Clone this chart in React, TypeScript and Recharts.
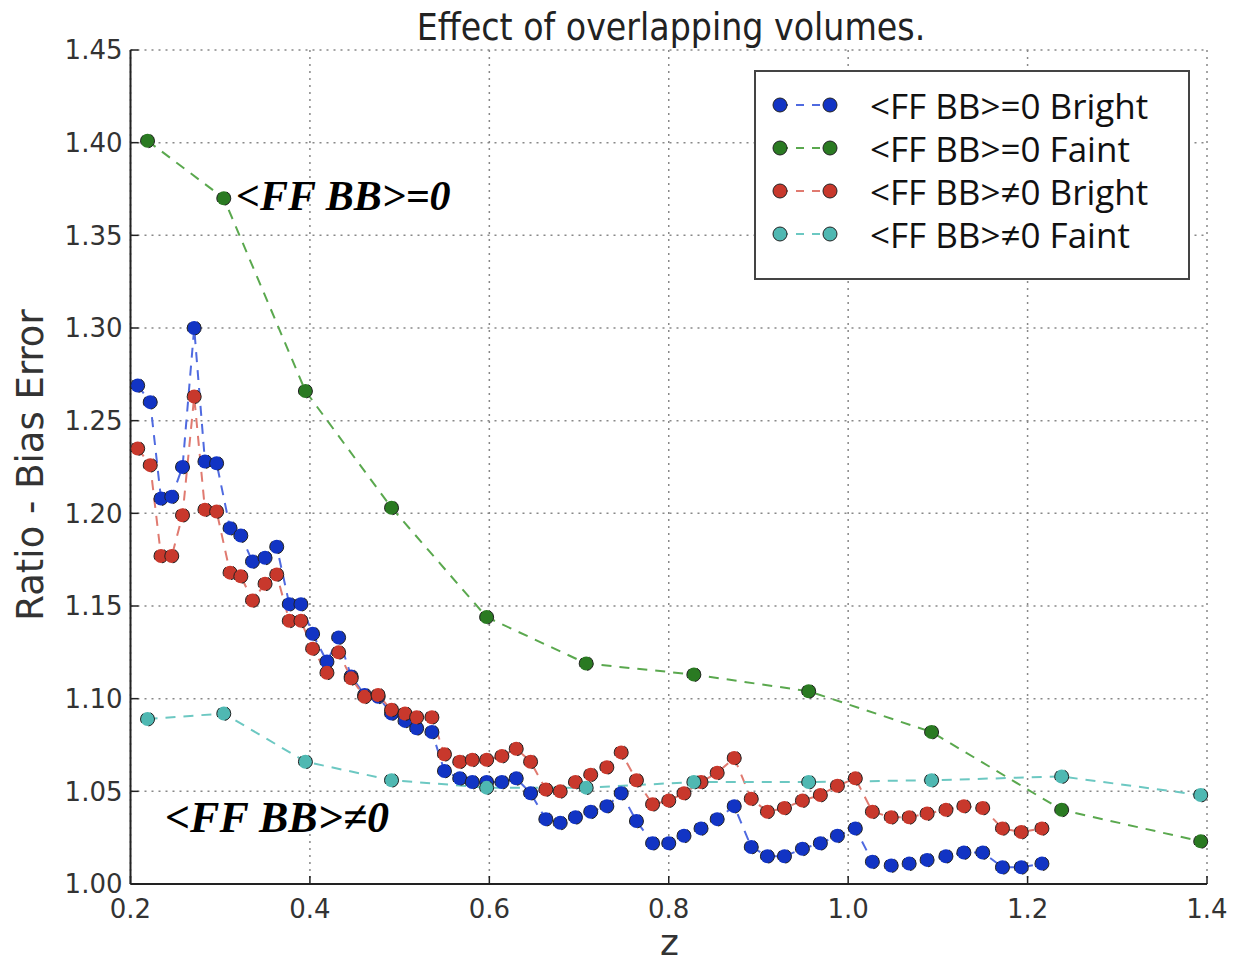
import React from "react";
import {
  LineChart,
  Line,
  XAxis,
  YAxis,
  CartesianGrid,
  Legend,
} from "recharts";

// redshift bins for the bright samples
const brightZ = [
  0.208, 0.222, 0.234, 0.246, 0.258, 0.271, 0.283, 0.296, 0.311, 0.323,
  0.336, 0.35, 0.363, 0.377, 0.39, 0.403, 0.419, 0.432, 0.446, 0.461,
  0.476, 0.491, 0.506, 0.519, 0.536, 0.55, 0.567, 0.581, 0.597, 0.614,
  0.63, 0.646, 0.663, 0.679, 0.696, 0.713, 0.731, 0.747, 0.764, 0.782,
  0.8, 0.817, 0.836, 0.854, 0.873, 0.892, 0.91, 0.929, 0.949, 0.969,
  0.988, 1.008, 1.027, 1.048, 1.068, 1.088, 1.109, 1.129, 1.15, 1.172,
  1.193, 1.216,
];

const brightEq = [
  1.269, 1.26, 1.208, 1.209, 1.225, 1.3, 1.228, 1.227, 1.192, 1.188,
  1.174, 1.176, 1.182, 1.151, 1.151, 1.135, 1.12, 1.133, 1.112, 1.102,
  1.101, 1.092, 1.088, 1.084, 1.082, 1.061, 1.057, 1.055, 1.055, 1.055,
  1.057, 1.049, 1.035, 1.033, 1.036, 1.039, 1.042, 1.049, 1.034, 1.022,
  1.022, 1.026, 1.03, 1.035, 1.042, 1.02, 1.015, 1.015, 1.019, 1.022,
  1.026, 1.03, 1.012, 1.01, 1.011, 1.013, 1.015, 1.017, 1.017, 1.009,
  1.009, 1.011,
];

const brightNe = [
  1.235, 1.226, 1.177, 1.177, 1.199, 1.263, 1.202, 1.201, 1.168, 1.166,
  1.153, 1.162, 1.167, 1.142, 1.142, 1.127, 1.114, 1.125, 1.111, 1.101,
  1.102, 1.094, 1.092, 1.09, 1.09, 1.07, 1.066, 1.067, 1.067, 1.069,
  1.073, 1.066, 1.051, 1.05, 1.055, 1.059, 1.063, 1.071, 1.056, 1.043,
  1.045, 1.049, 1.055, 1.06, 1.068, 1.046, 1.039, 1.041, 1.045, 1.048,
  1.053, 1.057, 1.039, 1.036, 1.036, 1.038, 1.04, 1.042, 1.041, 1.03,
  1.028, 1.03,
];

// redshift bins for the faint samples
const faintZ = [0.219, 0.304, 0.395, 0.491, 0.597, 0.708, 0.828, 0.956, 1.093, 1.238, 1.393];
const faintEq = [1.401, 1.37, 1.266, 1.203, 1.144, 1.119, 1.113, 1.104, 1.082, 1.04, 1.023];
const faintNe = [1.089, 1.092, 1.066, 1.056, 1.052, 1.052, 1.055, 1.055, 1.056, 1.058, 1.048];

const xTicks = [0.2, 0.4, 0.6, 0.8, 1.0, 1.2, 1.4];
const yTicks = [1.0, 1.05, 1.1, 1.15, 1.2, 1.25, 1.3, 1.35, 1.4, 1.45];

const series = [
  { name: "<FF BB>=0 Bright", z: brightZ, v: brightEq, color: "#1234c4", line: "#4f6ae0" },
  { name: "<FF BB>=0 Faint", z: faintZ, v: faintEq, color: "#2a7a22", line: "#5aa84e" },
  { name: "<FF BB>\u22600 Bright", z: brightZ, v: brightNe, color: "#c8382c", line: "#e07a70" },
  { name: "<FF BB>\u22600 Faint", z: faintZ, v: faintNe, color: "#4fb8b2", line: "#6cc8c2" },
];

const toPoints = (z: number[], v: number[]) => z.map((x, i) => ({ z: x, v: v[i] }));

const tickStyle = {
  fontSize: 26,
  fill: "#333",
  fontFamily: "'DejaVu Sans', sans-serif",
};

function LegendBox() {
  return (
    <div
      style={{
        position: "absolute",
        left: 754,
        top: 70,
        width: 436,
        height: 210,
        border: "2px solid #444",
        background: "#fff",
        boxSizing: "border-box",
        fontFamily: "'Open Sans', 'DejaVu Sans', sans-serif",
        fontSize: 35,
        color: "#111",
      }}
    >
      {series.map((s, i) => (
        <div
          key={s.name}
          style={{
            position: "absolute",
            left: 0,
            top: 13 + i * 43,
            height: 40,
            display: "flex",
            alignItems: "center",
          }}
        >
          <svg width={110} height={40} style={{ marginRight: 4 }}>
            <line x1={24} y1={20} x2={74} y2={20} stroke={s.line} strokeWidth={2} strokeDasharray="8 8" />
            <circle cx={24} cy={20} r={7} fill={s.color} stroke="#222" strokeWidth={1} />
            <circle cx={74} cy={20} r={7} fill={s.color} stroke="#222" strokeWidth={1} />
          </svg>
          <span style={{ whiteSpace: "nowrap" }}>{s.name}</span>
        </div>
      ))}
    </div>
  );
}

export default function App() {
  return (
    <div
      style={{
        position: "absolute",
        left: 0,
        top: 0,
        width: 1237,
        height: 966,
        background: "#fff",
        overflow: "hidden",
      }}
    >
      <LineChart
        width={1237}
        height={966}
        margin={{ top: 50, right: 30, bottom: 32, left: 0 }}
      >
        <CartesianGrid stroke="#888" strokeDasharray="2 5" strokeWidth={1.5} />
        <XAxis
          type="number"
          dataKey="z"
          domain={[0.2, 1.4]}
          ticks={xTicks}
          allowDuplicatedCategory={false}
          tickFormatter={(t: number) => t.toFixed(1)}
          tick={tickStyle}
          height={50}
          axisLine={{ stroke: "#222", strokeWidth: 2 }}
          tickLine={{ stroke: "#222", strokeWidth: 1.5 }}
          tickSize={-8}
          tickMargin={24}
        />
        <XAxis
          xAxisId="top"
          orientation="top"
          type="number"
          domain={[0.2, 1.4]}
          ticks={xTicks}
          tick={false}
          height={0}
          axisLine={{ stroke: "#222", strokeWidth: 2 }}
          tickLine={{ stroke: "#222", strokeWidth: 1.5 }}
          tickSize={-8}
        />
        <YAxis
          type="number"
          domain={[1.0, 1.45]}
          ticks={yTicks}
          tickFormatter={(t: number) => t.toFixed(2)}
          tick={tickStyle}
          width={130.5}
          axisLine={{ stroke: "#222", strokeWidth: 2 }}
          tickLine={{ stroke: "#222", strokeWidth: 1.5 }}
          tickSize={-8}
          tickMargin={16}
        />
        <YAxis
          yAxisId="right"
          orientation="right"
          type="number"
          domain={[1.0, 1.45]}
          ticks={yTicks}
          tick={false}
          width={0}
          axisLine={{ stroke: "#222", strokeWidth: 2 }}
          tickLine={{ stroke: "#222", strokeWidth: 1.5 }}
          tickSize={-8}
        />
        {series.map((s) => (
          <Line
            key={s.name}
            name={s.name}
            data={toPoints(s.z, s.v)}
            dataKey="v"
            type="linear"
            stroke={s.line}
            strokeWidth={2}
            strokeDasharray="10 8"
            dot={{ r: 7, fill: s.color, stroke: "#222", strokeWidth: 1, fillOpacity: 1 }}
            isAnimationActive={false}
          />
        ))}
        <Legend content={() => null} />
      </LineChart>

      <div
        style={{
          position: "absolute",
          left: 0,
          width: 1342,
          top: 6,
          textAlign: "center",
          fontFamily: "'DejaVu Sans Condensed', 'DejaVu Sans', sans-serif",
          fontSize: 37,
          color: "#222",
          whiteSpace: "nowrap",
        }}
      >
        Effect of overlapping volumes.
      </div>

      <div
        style={{
          position: "absolute",
          left: 30,
          top: 465,
          transform: "translate(-50%, -50%) rotate(-90deg)",
          whiteSpace: "nowrap",
          fontFamily: "'DejaVu Sans', sans-serif",
          fontSize: 37,
          color: "#333",
        }}
      >
        Ratio - Bias Error
      </div>

      <div
        style={{
          position: "absolute",
          left: 660,
          top: 922,
          fontFamily: "'DejaVu Sans', sans-serif",
          fontSize: 36,
          color: "#333",
        }}
      >
        z
      </div>

      <div
        style={{
          position: "absolute",
          left: 236,
          top: 172,
          fontFamily: "'Liberation Serif', 'Times New Roman', serif",
          fontWeight: "bold",
          fontStyle: "italic",
          fontSize: 42,
          color: "#000",
          whiteSpace: "nowrap",
        }}
      >
        {"<FF BB>=0"}
      </div>
      <div
        style={{
          position: "absolute",
          left: 165,
          top: 792,
          fontFamily: "'Liberation Serif', 'Times New Roman', serif",
          fontWeight: "bold",
          fontStyle: "italic",
          fontSize: 44,
          color: "#000",
          whiteSpace: "nowrap",
        }}
      >
        {"<FF BB>\u22600"}
      </div>

      <LegendBox />
    </div>
  );
}
